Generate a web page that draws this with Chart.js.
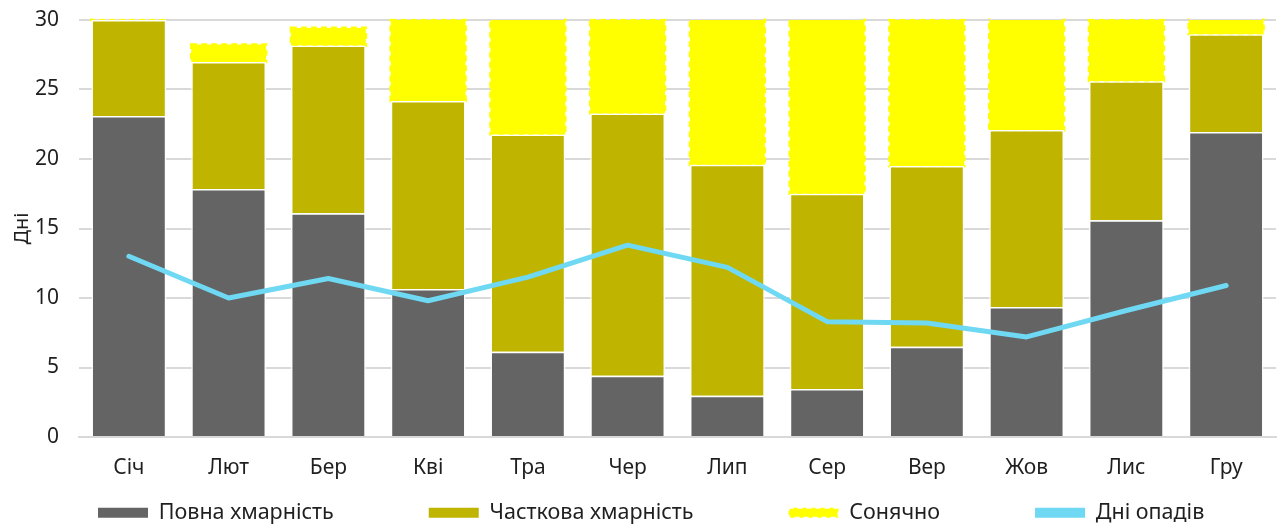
<!DOCTYPE html>
<html>
<head>
<meta charset="utf-8">
<script src="https://cdn.jsdelivr.net/npm/chart.js@4.4.1/dist/chart.umd.min.js"></script>
<style>
html,body{margin:0;padding:0;background:#fff;}
#wrap{width:1284px;height:529px;position:relative;}
</style>
</head>
<body>
<div id="wrap"><canvas id="c" width="1284" height="529"></canvas></div>
<script>
const months = ["Січ","Лют","Бер","Кві","Тра","Чер","Лип","Сер","Вер","Жов","Лис","Гру"];
const fullCloud = [23.1, 17.85, 16.1, 10.65, 6.13, 4.41, 2.96, 3.46, 6.49, 9.36, 15.6, 21.95];
const partialCloud = [6.9, 9.13, 12.06, 13.53, 15.64, 18.87, 16.62, 14.04, 13.0, 12.72, 10.0, 7.02];
const sunny = [0.3, 1.25, 1.27, 5.82, 8.9, 6.72, 11.0, 13.2, 10.51, 8.6, 4.4, 1.8];
const rainDays = [13.0, 10.0, 11.4, 9.8, 11.5, 13.8, 12.2, 8.3, 8.2, 7.2, 9.1, 10.9];
const yTicks = [0, 5, 10, 15, 20, 25, 30];

const FONT = "'Noto Sans', sans-serif";
Chart.defaults.font.family = FONT;
Chart.defaults.color = "#1f1f1f";

const LEGEND_PAD = 95;
const LEGEND_H = 42;
const LEGEND_SHIFT_Y = 80;
const LEGEND_START_X = 98;

// dashed outline for bar datasets (Chart.js bars do not support borderDash)
const dashedBorder = {
  id: 'dashedBorder',
  afterDatasetDraw(chart, args) {
    const ds = chart.data.datasets[args.index];
    if (!ds.dashed) return;
    const ctx = chart.ctx, a = chart.chartArea;
    ctx.save();
    ctx.beginPath();
    ctx.rect(a.left, a.top - 1.5, a.right - a.left, a.bottom - a.top + 1.5);
    ctx.clip();
    ctx.strokeStyle = ds.dashed.color;
    ctx.lineWidth = ds.dashed.width;
    ctx.setLineDash(ds.dashed.dash);
    args.meta.data.forEach(el => {
      const p = el.getProps(['x', 'y', 'base', 'width'], true);
      const top = Math.min(p.y, p.base), h = Math.abs(p.base - p.y);
      if (h <= 0) return;
      ctx.strokeRect(p.x - p.width / 2, top, p.width, h);
    });
    ctx.restore();
  }
};

// legend: wide horizontal spacing on one row without tall vertical padding
const legendFix = {
  id: 'legendFix',
  afterInit(chart) {
    const lg = chart.legend;
    if (!lg) return;
    const origFit = lg.fit.bind(lg);
    lg.fit = function () {
      const mw = this.maxWidth;
      this.maxWidth = 5000;
      origFit();
      this.maxWidth = mw;
      this.width = mw;
      this.height = LEGEND_H;
    };
    const origDraw = lg.draw.bind(lg);
    lg.draw = function () {
      const t = this.top, l = this.left, r = this.right, w = this.width;
      this.top = t - LEGEND_SHIFT_Y;
      this.left = LEGEND_START_X - LEGEND_PAD;
      this.right = 5000;
      this.width = this.right - this.left;
      origDraw();
      this.top = t; this.left = l; this.right = r; this.width = w;
    };
  }
};

new Chart(document.getElementById('c'), {
  data: {
    labels: months,
    datasets: [
      {type:'line', label:'Дні опадів', data: rainDays, borderColor:'#6FD8F2', backgroundColor:'#6FD8F2',
       borderWidth:5, pointRadius:0, tension:0, fill:false, order:0, borderCapStyle:'round', borderJoinStyle:'round'},
      {type:'bar', label:'Повна хмарність', data: fullCloud, backgroundColor:'#646464', borderColor:'#ffffff', borderWidth:1.5, stack:'s', order:1, clip:0},
      {type:'bar', label:'Часткова хмарність', data: partialCloud, backgroundColor:'#BFB500', borderColor:'#ffffff', borderWidth:1.5, stack:'s', order:1, clip:0},
      {type:'bar', label:'Сонячно', data: sunny, backgroundColor:'#FFFF00', borderColor:'#FFFF00', borderWidth:0, stack:'s', order:1, clip:0,
       dashed:{color:'#FFFF00', width:2.6, dash:[6,4]}}
    ]
  },
  plugins: [dashedBorder, legendFix],
  options: {
    responsive:false,
    animation:false,
    devicePixelRatio:1,
    datasets:{bar:{categoryPercentage:1, barPercentage:0.75}},
    layout:{padding:{left:0, right:8, top:0, bottom:0}},
    plugins:{
      legend:{
        position:'bottom',
        align:'start',
        labels:{
          boxWidth:50, boxHeight:10, padding:LEGEND_PAD, font:{size:21.5}, color:'#1f1f1f',
          generateLabels(chart) {
            const items = Chart.defaults.plugins.legend.labels.generateLabels(chart);
            items.forEach(it => {
              const ds = chart.data.datasets[it.datasetIndex];
              if (ds.dashed) { it.strokeStyle = '#ffffff'; it.lineWidth = 2; it.lineDash = [5, 4]; }
              else { it.lineWidth = 0; }
            });
            return items;
          },
          sort:(a,b)=>{const ord=['Повна хмарність','Часткова хмарність','Сонячно','Дні опадів'];return ord.indexOf(a.text)-ord.indexOf(b.text);}
        }
      },
      tooltip:{enabled:false}
    },
    scales:{
      x:{
        stacked:true,
        grid:{display:false, drawTicks:false},
        border:{display:true, color:'#D9D9D9', width:2},
        ticks:{font:{size:21}, color:'#1f1f1f', padding:18},
        afterFit:(s)=>{ s.height = 50; }
      },
      y:{
        stacked:true,
        min:0, max:30,
        afterBuildTicks:(axis)=>{axis.ticks = yTicks.map(v=>({value:v}));},
        grid:{color:'#D9D9D9', lineWidth:2, drawTicks:false},
        border:{display:false},
        ticks:{font:{size:21}, color:'#1f1f1f', padding:20},
        title:{display:true, text:'Дні', font:{size:20}, color:'#1f1f1f', padding:{top:10, bottom:0}},
        afterFit:(s)=>{ s.width = 79; s.paddingTop = 20; s.paddingBottom = 0; }
      }
    }
  }
});
</script>
</body>
</html>
